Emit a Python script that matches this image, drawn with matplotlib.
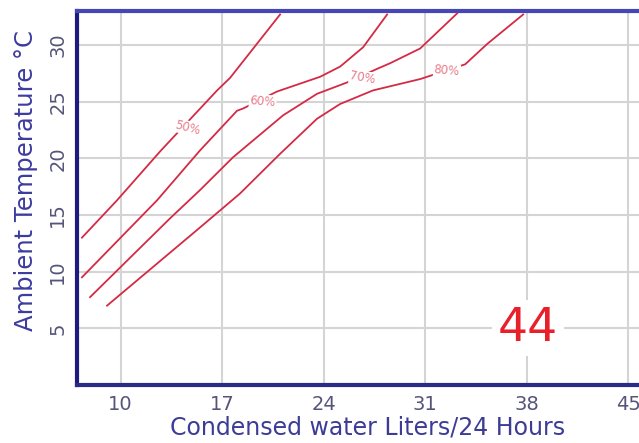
import matplotlib.pyplot as plt

# curves: condensed water (L/24h) vs ambient temperature (C)
x50 = [7.34, 9.76, 12.79, 16.66, 17.55, 21.0]
y50 = [13.0, 16.3, 20.7, 26.0, 27.1, 32.7]

x60 = [7.34, 12.52, 15.48, 18.03, 18.45, 20.79, 23.76, 25.14, 26.72, 28.38]
y60 = [9.5, 16.3, 20.7, 24.2, 24.4, 25.9, 27.2, 28.1, 29.8, 32.7]

x70 = [7.9, 13.41, 15.48, 17.76, 21.21, 23.55, 25.62, 27.69, 28.59, 30.66, 33.21]
y70 = [7.75, 14.7, 17.2, 20.1, 23.8, 25.7, 26.7, 27.9, 28.4, 29.7, 32.8]

x80 = [9.07, 15.48, 18.24, 21.0, 23.55, 25.14, 27.41, 30.66, 33.76, 35.28, 37.76]
y80 = [7.0, 13.9, 16.9, 20.4, 23.5, 24.8, 26.0, 27.0, 28.3, 30.1, 32.7]

labels = ["50%", "60%", "70%", "80%"]
label_x = [14.6, 19.8, 26.7, 32.5]
label_y = [22.7, 25.0, 27.1, 27.7]
label_rot = [-15, -5, -10, -5]

xticks = [10, 17, 24, 31, 38, 45]
yticks = [5, 10, 15, 20, 25, 30]

fig = plt.figure(figsize=(6.39, 4.43), dpi=100)
ax = fig.add_axes([0.1205, 0.131, 0.908, 0.844])

line_col = "#d42a45"
for xs, ys in [(x50, y50), (x60, y60), (x70, y70), (x80, y80)]:
    ax.plot(xs, ys, color=line_col, lw=1.3, zorder=3)

for t, lx, ly, r in zip(labels, label_x, label_y, label_rot):
    ax.text(lx, ly, t, color="#e77c8a", fontsize=8.5, ha="center", va="center",
            rotation=r, zorder=4,
            bbox=dict(facecolor="white", edgecolor="none", pad=0.5))

ax.text(38.1, 5.0, "44", color="#e8202a", fontsize=34, ha="center", va="center",
        zorder=4, bbox=dict(facecolor="white", edgecolor="none", pad=4))

ax.set_xlim(7, 47)
ax.set_ylim(0, 33)
ax.set_xticks(xticks)
ax.set_yticks(yticks)
ax.grid(True, color="#d4d4d4", lw=1.5)
ax.set_axisbelow(True)

ax.tick_params(length=0, labelsize=14, labelcolor="#55557a", pad=7)
for lab in ax.get_yticklabels():
    lab.set_rotation(90)
    lab.set_va("center")

ax.spines["right"].set_visible(False)
ax.spines["left"].set_color("#1c1c80")
ax.spines["bottom"].set_color("#2a2a88")
ax.spines["top"].set_color("#4646b4")
for s in ["left", "bottom", "top"]:
    ax.spines[s].set_linewidth(3)

ax.set_xlabel("Condensed water Liters/24 Hours", fontsize=17, color="#3c3c96", labelpad=1)
ax.set_ylabel("Ambient Temperature °C", fontsize=17.5, color="#3c3ca0")
ax.yaxis.set_label_coords(-0.067, 0.548)

fig.savefig("out.png", dpi=100)
